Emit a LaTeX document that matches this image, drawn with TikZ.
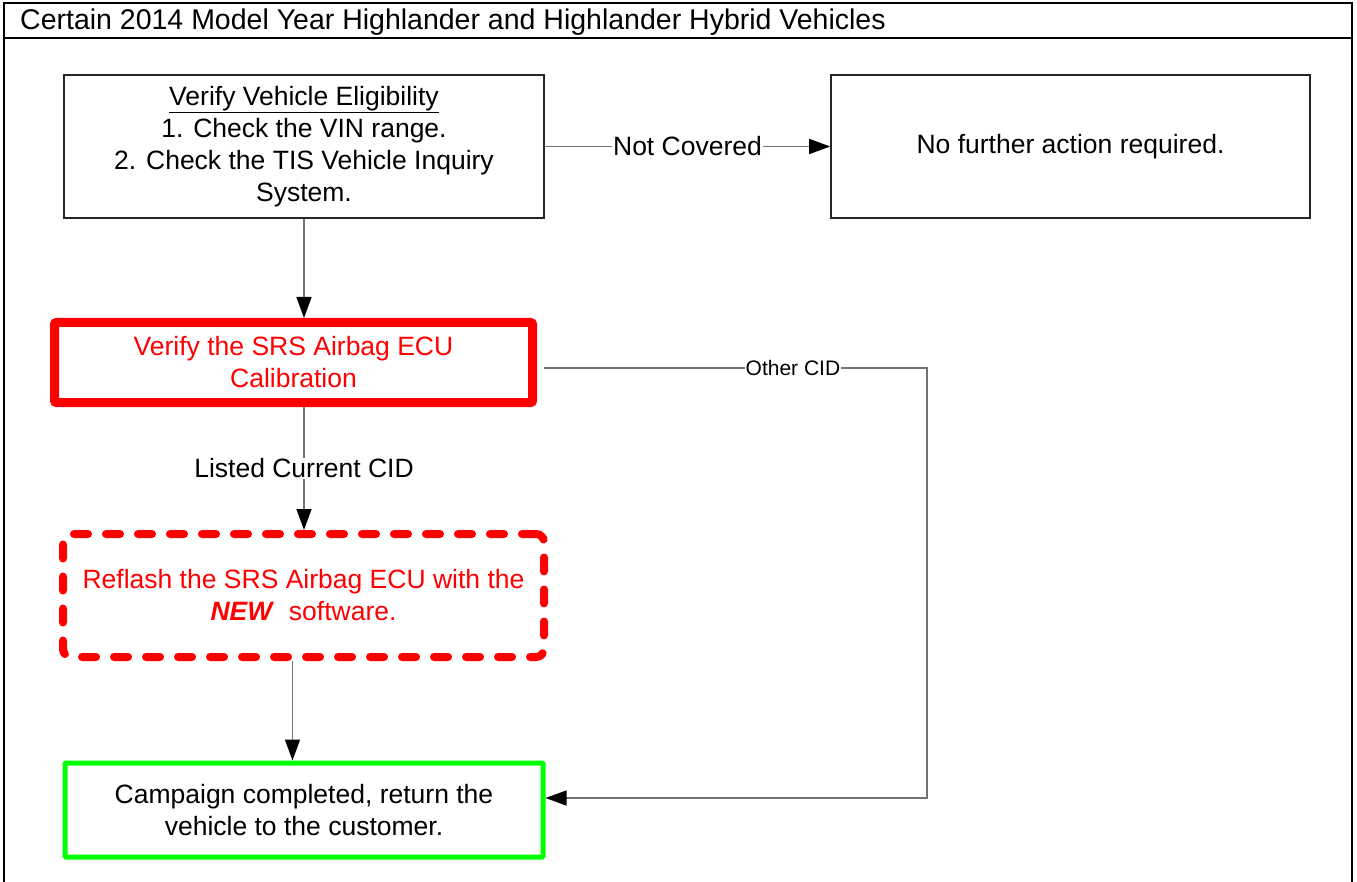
\documentclass[tikz,border=0pt]{standalone}
\usepackage{fontspec}
\setmainfont{Liberation Sans}
\usepackage{tikz}
\usepackage{xcolor}
\usetikzlibrary{arrows.meta}

\definecolor{srsred}{RGB}{255,0,0}
\definecolor{donegreen}{RGB}{0,255,0}
\tikzset{
  stepbox/.style={draw=black!85, line width=1.6pt, align=center, inner sep=0pt,
    font=\fontsize{26.5}{32}\selectfont},
  conn/.style={draw=black!55, line width=1.4pt},
  arr/.style={conn, -{Triangle[length=21pt,width=15pt,color=black]}},
  lbl/.style={fill=white, inner sep=1pt, font=\fontsize{26.5}{32}\selectfont},
  smalllbl/.style={lbl, font=\fontsize{21}{25}\selectfont},
}

\begin{document}
\begin{tikzpicture}[x=1pt,y=-1pt]
                \useasboundingbox (0,0) rectangle (1357,882);
                % frame and heading
                \draw[line width=2pt] (4,890) -- (4,3) -- (1352,3) -- (1352,890);
                \draw[line width=2pt] (4,38) -- (1352,38);
                \node[anchor=west, inner sep=0pt, font=\fontsize{28.5}{34}\selectfont] (title) at (20,22)
                    {Certain 2014 Model Year Highlander and Highlander Hybrid Vehicles};
                % steps
                \node[stepbox, minimum width=480pt, minimum height=143pt] (elig) at (304,146.5)
                    {\underline{Verify Vehicle Eligibility}\\1. Check the VIN range.\\2. Check the TIS Vehicle Inquiry\\System.};
                \node[stepbox, minimum width=479pt, minimum height=143pt] (nofurther) at (1070.5,146.5)
                    {No further action required.};
                \node[stepbox, draw=srsred, text=srsred, line width=9pt, rounded corners=2pt,
                    minimum width=478pt, minimum height=80pt] (calib) at (293.5,362.5)
                    {Verify the SRS Airbag ECU\\Calibration};
                \node[stepbox, draw=srsred, text=srsred, line width=8pt, dash pattern=on 14pt off 18pt,
                    line cap=round, rounded corners=8pt, minimum width=481pt, minimum height=123pt] (reflash) at (303.5,595.5)
                    {Reflash the SRS Airbag ECU with the\\\textbf{\textit{NEW}}\ \ software.};
                \node[stepbox, draw=donegreen, line width=5pt, rounded corners=1pt,
                    minimum width=478pt, minimum height=94pt] (done) at (304,810)
                    {Campaign completed, return the\\vehicle to the customer.};
                % connectors
                \draw[arr] (elig.east) -- node[lbl]{Not Covered} (nofurther.west);
                \draw[arr] (elig.south) -- (calib.north -| elig.south);
                \draw[arr] (calib.south -| elig.south) -- node[lbl]{Listed Current CID} (reflash.north -| elig.south);
                \draw[arr] ([xshift=-11pt]reflash.south) -- ([xshift=-11pt]reflash.south |- done.north);
                \coordinate (cidturn) at (927,368);
                \draw[arr] ([xshift=7pt,yshift=-5.5pt]calib.east) -- node[smalllbl, pos=0.65]{Other CID} (cidturn)
                    |- ([yshift=12pt]done.east);
            \end{tikzpicture}
\end{document}
